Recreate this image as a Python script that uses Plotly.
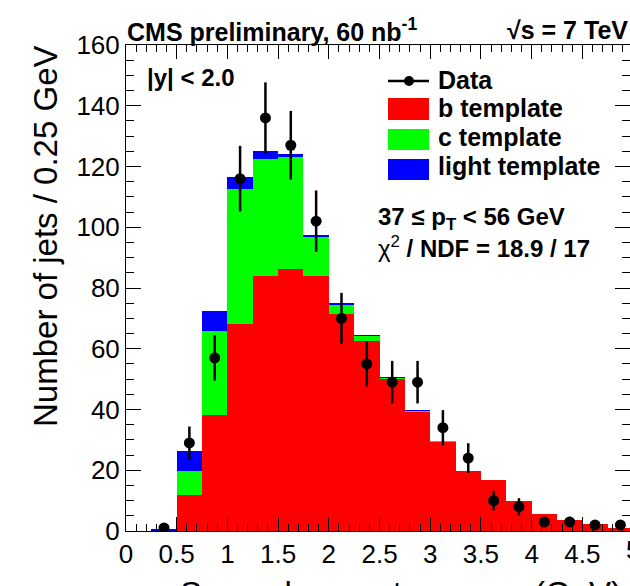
import plotly.graph_objects as go

# ---- data ----
bin_centers = [0.125, 0.375, 0.625, 0.875, 1.125, 1.375, 1.625, 1.875, 2.125, 2.375,
               2.625, 2.875, 3.125, 3.375, 3.625, 3.875, 4.125, 4.375, 4.625, 4.875]
b_template = [0, 0, 11.9, 38.3, 68.1, 84.1, 86.4, 84.1, 71.6, 62.6,
              50.1, 39.4, 29.5, 19.7, 16.9, 9.8, 5.6, 3.7, 2.3, 1.1]
c_template = [0, 0, 7.7, 27.4, 44.4, 38.3, 36.6, 13.0, 3.1, 1.6,
              0.3, 0.2, 0.1, 0, 0, 0, 0, 0, 0, 0]
light_template = [0, 0.8, 6.6, 6.6, 3.9, 2.8, 1.1, 0.5, 0.5, 0.2,
                  0.1, 0.1, 0, 0, 0, 0, 0, 0, 0, 0]
data_x = [0.375, 0.625, 0.875, 1.125, 1.375, 1.625, 1.875, 2.125, 2.375,
          2.625, 2.875, 3.125, 3.375, 3.625, 3.875, 4.125, 4.375, 4.625, 4.875]
data_y = [1, 29, 57, 116, 136, 127, 102, 70, 55, 49, 49, 34, 24, 10, 8, 3, 3, 2, 2]
data_err = [1, 5.4, 7.5, 10.8, 11.7, 11.3, 10.1, 8.4, 7.4, 7.0, 7.0, 5.8, 4.9, 3.2, 2.8, 1.7, 1.7, 1.4, 1.4]
bin_width = 0.25

# ---- geometry helpers (pixel -> paper) ----
L, R, T, B = 126, 630, 45, 531
def px(X):
    return (X - L) / (R - L)
def py(Y):
    return (B - Y) / (B - T)

FONT = "Liberation Sans"
RED, GREEN, BLUE = "#ff0000", "#00ff00", "#0000ff"

fig = go.Figure()
fig.add_trace(go.Bar(x=bin_centers, y=b_template, width=bin_width, marker=dict(color=RED, line=dict(width=0)), name="b template"))
fig.add_trace(go.Bar(x=bin_centers, y=c_template, width=bin_width, marker=dict(color=GREEN, line=dict(width=0)), name="c template"))
fig.add_trace(go.Bar(x=bin_centers, y=light_template, width=bin_width, marker=dict(color=BLUE, line=dict(width=0)), name="light template"))
fig.add_trace(go.Scatter(x=data_x, y=data_y, mode="markers", name="Data",
                         marker=dict(color="black", size=11),
                         error_y=dict(type="data", array=data_err, thickness=2.5, width=0, color="black")))

fig.update_layout(
    width=630, height=586,
    margin=dict(l=L, r=630 - R, t=T, b=586 - B),
    paper_bgcolor="white", plot_bgcolor="white",
    barmode="stack", bargap=0, showlegend=False,
    font=dict(family=FONT, color="black"),
)
fig.update_xaxes(range=[0, 4.97], tick0=0, dtick=0.5, ticks="inside", ticklen=14, tickwidth=1,
                 tickcolor="black", showline=True, linecolor="black", linewidth=1, mirror="ticks",
                 showgrid=False, zeroline=False, tickfont=dict(size=26, family=FONT),
                 minor=dict(dtick=0.1, ticks="inside", ticklen=7, tickcolor="black", showgrid=False))
fig.update_yaxes(range=[0, 160], tick0=0, dtick=20, ticks="inside", ticklen=15, tickwidth=1,
                 tickcolor="black", showline=True, linecolor="black", linewidth=1, mirror="ticks",
                 showgrid=False, zeroline=False, tickfont=dict(size=26, family=FONT),
                 minor=dict(dtick=5, ticks="inside", ticklen=8, tickcolor="black", showgrid=False))

ann = []
def text(x, y, s, size, bold=True, xanchor="left", angle=0):
    ann.append(dict(xref="paper", yref="paper", x=px(x), y=py(y), text=(f"<b>{s}</b>" if bold else s),
                    showarrow=False, xanchor=xanchor, yanchor="middle", textangle=angle,
                    font=dict(family=FONT, size=size, color="black")))

text(125, 30, "CMS preliminary, 60 nb<sup>-1</sup>", 25)
text(505, 30, "√s = 7 TeV", 25)
text(145, 78, "|y| &lt; 2.0", 24)
text(436, 80, "Data", 25)
text(436, 108, "b template", 25)
text(436, 137, "c template", 25)
text(436, 166, "light template", 25)
text(376, 218, "37 ≤ p<sub>T</sub> &lt; 56 GeV", 24)
text(376, 247, "</b>χ<sup>2</sup><b> / NDF = 18.9 / 17", 24)
text(45, 236, "Number of jets / 0.25 GeV", 33, bold=False, xanchor="center", angle=-90)
text(401, 593, "Secondary vertex mass (GeV)", 33, bold=False, xanchor="center")
text(633, 550, "5", 26, bold=False, xanchor="center")
fig.update_layout(annotations=ann)

shapes = []
shapes.append(dict(type="line", xref="paper", yref="paper", x0=px(388), x1=px(429), y0=py(81), y1=py(81),
                   line=dict(color="black", width=2.5)))
shapes.append(dict(type="circle", xref="paper", yref="paper", x0=px(404), x1=px(414), y0=py(76), y1=py(86),
                   fillcolor="black", line=dict(color="black", width=0)))
for (y0, y1, col) in [(98, 120, RED), (129, 150, GREEN), (159, 180, BLUE)]:
    shapes.append(dict(type="rect", xref="paper", yref="paper", x0=px(388), x1=px(429), y0=py(y1), y1=py(y0),
                       fillcolor=col, line=dict(width=0)))
fig.update_layout(shapes=shapes)

fig.write_html("out.html")
